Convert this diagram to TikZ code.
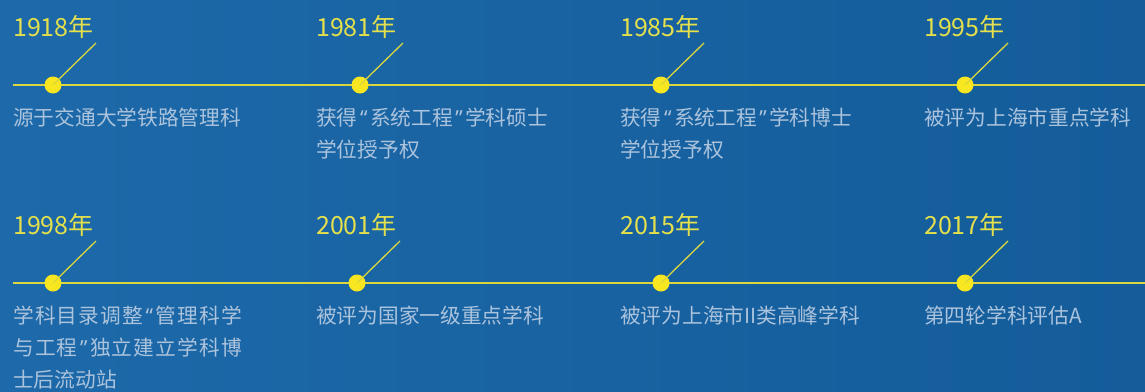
\documentclass[tikz,border=0pt]{standalone}
\usepackage{fontspec}
\usepackage{xcolor}
\newfontfamily\cjk{Noto Sans CJK SC}
\newfontfamily\qfont{Noto Sans}
\newcommand\openq{\kern2.5pt{\qfont“}\kern2.5pt}
\newcommand\closeq{\kern2.5pt{\qfont”}\kern2.5pt}
\newcommand\wideline[1]{{\addfontfeature{LetterSpace=5.5}#1}}
\definecolor{bgblue}{HTML}{1D69A9}
\definecolor{bgdark}{HTML}{145C9A}
\definecolor{lineyellow}{HTML}{D9D63E}
\definecolor{dotyellow}{HTML}{F7E620}
\definecolor{yearyellow}{HTML}{E4E04C}
\definecolor{desctext}{HTML}{ABC3DC}
\tikzset{
  axis/.style={lineyellow, line width=2pt},
  tick/.style={lineyellow, line width=1.3pt},
  dot/.style={circle, fill=dotyellow, minimum size=17pt, inner sep=0pt},
  year/.style={anchor=base west, inner sep=0pt, text=yearyellow, font=\cjk\fontsize{25}{30}\selectfont},
  desc/.style={anchor=north west, inner sep=0pt, align=left, text=desctext, font=\cjk\fontsize{20.7}{32}\selectfont}
}

\begin{document}
\begin{tikzpicture}[x=1pt,y=-1pt]
  \useasboundingbox (0,0) rectangle (1145,391);
  \shade[left color=bgblue, right color=bgdark] (0,0) rectangle (1145,391);

  % upper row
  \coordinate (a1) at (13,85);
  \coordinate (b1) at (1145,85);
  \draw[axis] (a1) -- (b1);

  \node[dot] (d1) at (53,85) {};
  \coordinate (t1) at (96,43);
  \draw[tick] (d1.center) -- (t1);
  \node[year] (y1) at (13,36) {1918年};
  \node[desc] (s1) at (13,108) {源于交通大学铁路管理科};

  \node[dot] (d2) at (360,85) {};
  \coordinate (t2) at (403,43);
  \draw[tick] (d2.center) -- (t2);
  \node[year] (y2) at (316,36) {1981年};
  \node[desc] (s2) at (316,108) {获得\openq 系统工程\closeq 学科硕士\\学位授予权};

  \node[dot] (d3) at (661,85) {};
  \coordinate (t3) at (704,43);
  \draw[tick] (d3.center) -- (t3);
  \node[year] (y3) at (620,36) {1985年};
  \node[desc] (s3) at (620,108) {获得\openq 系统工程\closeq 学科博士\\学位授予权};

  \node[dot] (d4) at (965,85) {};
  \coordinate (t4) at (1008,43);
  \draw[tick] (d4.center) -- (t4);
  \node[year] (y4) at (924,36) {1995年};
  \node[desc] (s4) at (924,108) {被评为上海市重点学科};

  % lower row
  \coordinate (a2) at (13,283);
  \coordinate (b2) at (1145,283);
  \draw[axis] (a2) -- (b2);

  \node[dot] (d5) at (53,283) {};
  \coordinate (t5) at (96,241);
  \draw[tick] (d5.center) -- (t5);
  \node[year] (y5) at (13,234) {1998年};
  \node[desc] (s5) at (13,306) {\wideline{学科目录调整}\openq\wideline{管理科学}\\
    \wideline{与工程}\closeq\wideline{独立建立学科博}\\士后流动站};

  \node[dot] (d6) at (357,283) {};
  \coordinate (t6) at (400,241);
  \draw[tick] (d6.center) -- (t6);
  \node[year] (y6) at (316,234) {2001年};
  \node[desc] (s6) at (316,306) {被评为国家一级重点学科};

  \node[dot] (d7) at (661,283) {};
  \coordinate (t7) at (704,241);
  \draw[tick] (d7.center) -- (t7);
  \node[year] (y7) at (620,234) {2015年};
  \node[desc] (s7) at (620,306) {被评为上海市II类高峰学科};

  \node[dot] (d8) at (965,283) {};
  \coordinate (t8) at (1008,241);
  \draw[tick] (d8.center) -- (t8);
  \node[year] (y8) at (924,234) {2017年};
  \node[desc] (s8) at (924,306) {第四轮学科评估A};
\end{tikzpicture}
\end{document}
